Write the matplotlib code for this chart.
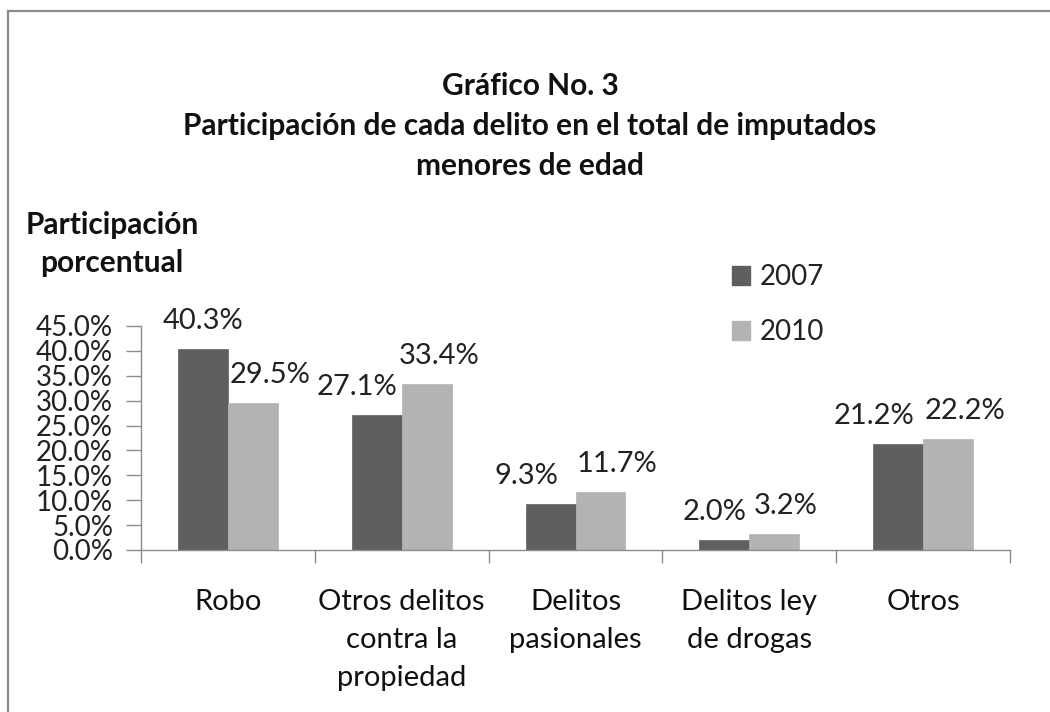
import matplotlib
matplotlib.use("Agg")
import matplotlib.pyplot as plt
from matplotlib.patches import Patch
from matplotlib.lines import Line2D
import numpy as np

categories = ["Robo", "Otros delitos\ncontra la\npropiedad", "Delitos\npasionales",
              "Delitos ley\nde drogas", "Otros"]
series_names = ["2007", "2010"]
values_2007 = [40.3, 27.1, 9.3, 2.0, 21.2]
values_2010 = [29.5, 33.4, 11.7, 3.2, 22.2]
yticks = [0, 5, 10, 15, 20, 25, 30, 35, 40, 45]

plt.rcParams['font.family'] = ['Lato', 'DejaVu Sans']

W, H = 1050, 712
fig = plt.figure(figsize=(W / 100, H / 100), dpi=100)
fig.patch.set_facecolor("white")

def fx(px):
    return px / W

def fy(py):
    return 1 - py / H

ax = fig.add_axes([fx(141), fy(550), fx(1010) - fx(141), fy(326) - fy(550)])

dark = "#5f5f5f"
light = "#b3b3b3"
axis_col = "#8c8c8c"
bw = 0.287
x = np.arange(len(categories))
ax.bar(x - bw / 2, values_2007, bw, color=dark, edgecolor=dark, linewidth=0.5, label=series_names[0])
ax.bar(x + bw / 2, values_2010, bw, color=light, edgecolor=light, linewidth=0.5, label=series_names[1])

ax.set_xlim(-0.5, len(categories) - 0.5)
ax.set_ylim(0, 45)
ax.set_yticks(yticks)
ax.set_yticklabels([f"{v:.1f}%" for v in yticks], fontsize=20, color="#222222")
ax.tick_params(axis="y", length=11, width=1, color=axis_col, pad=9)

ax.set_xticks(x)
ax.set_xticklabels(categories, fontsize=21, color="#111111", linespacing=1.58, va="top")
ax.tick_params(axis="x", which="major", length=0, pad=28)
ax.set_xticks(np.arange(-0.5, len(categories), 1.0), minor=True)
ax.tick_params(axis="x", which="minor", length=9, width=1, color=axis_col)

for s in ["top", "right"]:
    ax.spines[s].set_visible(False)
for s in ["left", "bottom"]:
    ax.spines[s].set_color(axis_col)
    ax.spines[s].set_linewidth(1)

# data labels (offsets in pixels, styling only)
dx_dark = [0, -20, -24, -10, -24]
dx_light = [17, 13, 17, 11, 17]
for i in range(len(categories)):
    for vals, dxs, sgn in ((values_2007, dx_dark, -1), (values_2010, dx_light, 1)):
        ax.annotate(f"{vals[i]:.1f}%", xy=(x[i] + sgn * bw / 2, vals[i]),
                    xytext=(dxs[i] * 0.72, 28 * 0.72), textcoords="offset points",
                    ha="center", va="center", fontsize=21, color="#222222")

# title
title_lines = ["Gráfico No. 3", "Participación de cada delito en el total de imputados",
               "menores de edad"]
for t, yy in zip(title_lines, [86, 126, 166]):
    fig.text(fx(530), fy(yy), t, ha="center", va="center", fontsize=21.5, fontweight="bold",
             color="#111111")

# y axis label
fig.text(fx(112), fy(225), "Participación", ha="center", va="center", fontsize=21.5,
         fontweight="bold", color="#111111")
fig.text(fx(112), fy(263), "porcentual", ha="center", va="center", fontsize=21.5,
         fontweight="bold", color="#111111")

# legend
handles = [Patch(facecolor=dark, edgecolor=dark), Patch(facecolor=light, edgecolor=light)]
leg = fig.legend(handles, series_names, loc="upper left",
                 bbox_to_anchor=(fx(732), fy(264)), frameon=False, fontsize=20,
                 handlelength=0.65, handleheight=0.65, handletextpad=0.35,
                 labelspacing=1.05, borderpad=0, borderaxespad=0)
for t in leg.get_texts():
    t.set_color("#222222")

# outer border (top and left visible)
fig.add_artist(Line2D([fx(8), 1.0], [fy(11), fy(11)], color="#8c8c8c", linewidth=1.6))
fig.add_artist(Line2D([fx(8), fx(8)], [fy(11), 0.0], color="#8c8c8c", linewidth=1.6))

fig.savefig("out.png", dpi=100, facecolor="white")
